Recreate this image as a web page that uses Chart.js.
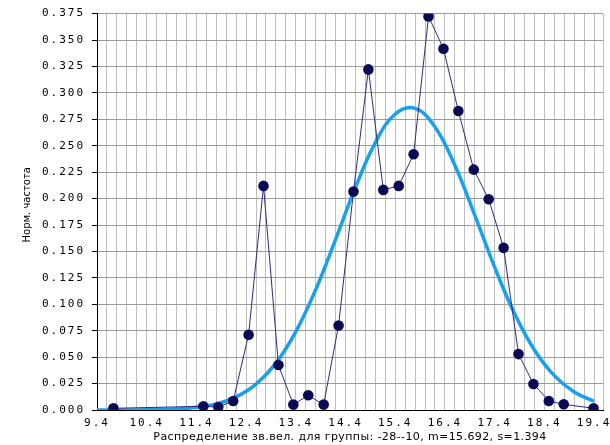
<!DOCTYPE html>
<html>
<head>
<meta charset="utf-8">
<script src="https://cdn.jsdelivr.net/npm/chart.js@4"></script>
<style>
  html, body { margin: 0; padding: 0; background: #fff; }
  canvas { display: block; }
</style>
</head>
<body>
<canvas id="chart" width="610" height="445"></canvas>
<script>
// observed normalised frequencies
const freqX = [9.73, 11.54, 11.84, 12.14, 12.45, 12.75, 13.05, 13.35, 13.65, 13.96, 14.26, 14.56, 14.86,
               15.16, 15.47, 15.77, 16.07, 16.37, 16.67, 16.98, 17.28, 17.58, 17.88, 18.18, 18.49, 18.79, 19.39];
const freqY = [0.0016, 0.0035, 0.0028, 0.0085, 0.0712, 0.2120, 0.0425, 0.0051, 0.0139, 0.0051, 0.0800, 0.2066, 0.3222,
               0.2082, 0.2120, 0.2419, 0.3723, 0.3417, 0.2829, 0.2274, 0.1994, 0.1534, 0.0529, 0.0246, 0.0085, 0.0054, 0.0016];

// normal curve (m=15.692, s=1.394)
const fitX = [9.4, 9.8, 10.2, 10.6, 11.0, 11.4, 11.8, 12.2, 12.6, 13.0, 13.4, 13.8, 14.2,
              14.6, 15.0, 15.4, 15.8, 16.2, 16.6, 17.0, 17.4, 17.8, 18.2, 18.6, 19.0, 19.4];
const fitY = [0.0000, 0.0000, 0.0001, 0.0004, 0.0010, 0.0025, 0.0058, 0.0124, 0.0245, 0.0443, 0.0741, 0.1139, 0.1614,
              0.2106, 0.2530, 0.2800, 0.2853, 0.2678, 0.2315, 0.1843, 0.1351, 0.0912, 0.0567, 0.0325, 0.0171, 0.0083];

const xLabelTicks = [9.4, 10.4, 11.4, 12.4, 13.4, 14.4, 15.4, 16.4, 17.4, 18.4, 19.4];
const xMin = 9.4, xMax = 19.58, xMinorStep = 0.2;
const yMin = 0, yMax = 0.375, yStep = 0.025;

const xTitle = 'Распределение зв.вел. для группы: -28--10, m=15.692, s=1.394';
const yTitle = 'Норм. частота';

const tickFont = { family: '"DejaVu Sans Mono", monospace', size: 11 };
const tickSpacing = '2px';

// vertical grid every 0.2, plus the right edge
const xGridTicks = [];
for (let i = 0; xMin + i * xMinorStep <= xLabelTicks[xLabelTicks.length - 1] + 1e-9; i++) {
    xGridTicks.push(+(xMin + i * xMinorStep).toFixed(1));
}
xGridTicks.push(xMax);

const spacedTicks = {
    id: 'spacedTicks',
    beforeUpdate(chart) { chart.ctx.letterSpacing = tickSpacing; },
    beforeDraw(chart) { chart.ctx.letterSpacing = tickSpacing; },
    afterDraw(chart) {
        const ctx = chart.ctx;
        const area = chart.chartArea;
        ctx.save();
        ctx.fillStyle = '#000';
        ctx.textAlign = 'center';
        ctx.textBaseline = 'middle';
        ctx.letterSpacing = '0.4px';
        ctx.font = '11px "DejaVu Sans", sans-serif';
        ctx.fillText(xTitle, (area.left + area.right) / 2, 437.5);
        ctx.letterSpacing = '0px';
        ctx.translate(27.5, (area.top + area.bottom) / 2 - 7);
        ctx.rotate(-Math.PI / 2);
        ctx.font = '10px "DejaVu Sans", sans-serif';
        ctx.fillText(yTitle, 0, 0);
        ctx.restore();
    }
};

new Chart(document.getElementById('chart').getContext('2d'), {
    type: 'line',
    data: {
        datasets: [{
            data: freqX.map((x, i) => ({ x: x, y: freqY[i] })),
            borderColor: '#2c2c7e',
            borderWidth: 1,
            pointRadius: 5.3,
            pointBackgroundColor: '#0a0a55',
            pointBorderColor: '#0a0a55',
            pointBorderWidth: 0,
            tension: 0
        }, {
            data: fitX.map((x, i) => ({ x: x, y: fitY[i] })),
            borderColor: '#16a0f0',
            borderWidth: 3.5,
            pointRadius: 0,
            tension: 0.4
        }]
    },
    options: {
        responsive: false,
        animation: false,
        devicePixelRatio: 1,
        layout: { padding: { top: 13, right: 6, left: 0, bottom: 0 } },
        plugins: { legend: { display: false }, tooltip: { enabled: false } },
        scales: {
            x: {
                type: 'linear',
                min: xMin,
                max: xMax,
                afterBuildTicks: scale => { scale.ticks = xGridTicks.map(v => ({ value: v })); },
                afterFit: scale => { scale.height = 35; },
                grid: { color: '#bdbdbd', drawTicks: false },
                border: { display: true, color: '#000', width: 1 },
                ticks: {
                    color: '#000',
                    font: tickFont,
                    padding: 7,
                    maxRotation: 0,
                    autoSkip: false,
                    callback: v => xLabelTicks.some(t => Math.abs(t - v) < 1e-6) ? v.toFixed(1) : ''
                }
            },
            y: {
                min: yMin,
                max: yMax,
                afterFit: scale => { scale.width = 97; },
                grid: { color: '#9a9a9a', tickColor: '#000', tickLength: 5 },
                border: { display: true, color: '#000', width: 1 },
                ticks: {
                    color: '#000',
                    font: tickFont,
                    padding: 7,
                    stepSize: yStep,
                    callback: v => v.toFixed(3)
                }
            }
        }
    },
    plugins: [spacedTicks]
});
</script>
</body>
</html>
